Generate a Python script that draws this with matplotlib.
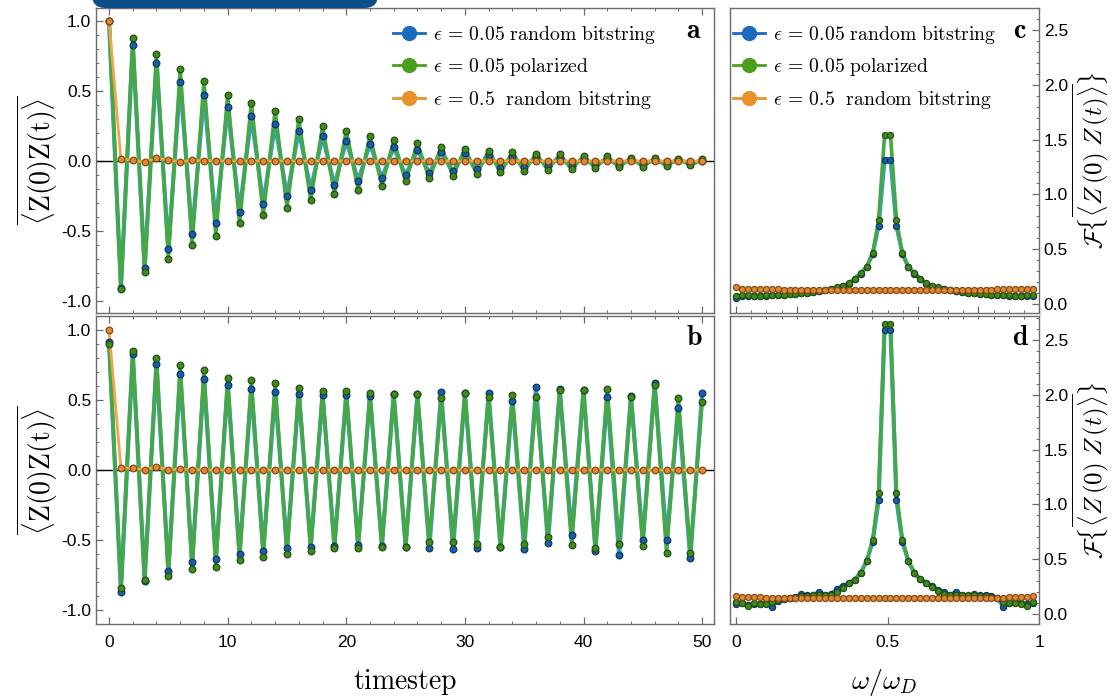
import matplotlib
matplotlib.use("Agg")
import matplotlib.pyplot as plt  # noqa: E402
import numpy as np  # noqa: E402
from matplotlib.patches import FancyBboxPatch  # noqa: E402
from matplotlib.ticker import MultipleLocator, FixedLocator, NullFormatter  # noqa: E402

plt.rcParams["mathtext.fontset"] = "cm"
plt.rcParams["font.family"] = ["Liberation Sans", "DejaVu Sans"]

# ---- data -------------------------------------------------------------------
timesteps = list(range(51))

a_blue = [1.0, -0.91, 0.829, -0.762, 0.698, -0.629, 0.562, -0.519, 0.471, -0.44,
          0.383, -0.362, 0.321, -0.305, 0.262, -0.25, 0.217, -0.205, 0.176, -0.174,
          0.145, -0.14, 0.121, -0.121, 0.098, -0.10, 0.079, -0.086, 0.067, -0.074,
          0.055, -0.06, 0.043, -0.05, 0.036, -0.045, 0.029, -0.036, 0.024, -0.033,
          0.017, -0.029, 0.014, -0.026, 0.010, -0.024, 0.007, -0.021, 0.007, -0.017,
          0.002]
a_green = [1.0, -0.914, 0.876, -0.795, 0.767, -0.698, 0.659, -0.60, 0.574, -0.533,
           0.471, -0.445, 0.417, -0.386, 0.36, -0.333, 0.30, -0.281, 0.248, -0.233,
           0.217, -0.205, 0.179, -0.176, 0.15, -0.145, 0.126, -0.124, 0.10, -0.107,
           0.088, -0.095, 0.074, -0.081, 0.062, -0.074, 0.052, -0.064, 0.048, -0.06,
           0.036, -0.05, 0.033, -0.045, 0.024, -0.04, 0.02, -0.036, 0.017, -0.031,
           0.012]
a_orange = [1.0, 0.012, 0.007, -0.007, 0.019, 0.007, -0.005, 0.004, 0.003, 0.002,
            0.0, 0.002, 0.0, 0.001, 0.0, 0.001, 0.0, 0.0, 0.001, 0.0,
            0.0, 0.0, 0.001, 0.0, 0.0, 0.0, 0.001, 0.0, 0.0, 0.0,
            0.0, 0.0, 0.0, 0.0, 0.001, 0.0, 0.0, 0.0, 0.0, 0.0,
            0.0, 0.0, 0.0, 0.0, 0.0, 0.0, 0.0, 0.0, 0.0, 0.0, 0.0]

b_blue = [0.912, -0.869, 0.826, -0.793, 0.76, -0.719, 0.686, -0.66, 0.648, -0.636,
          0.605, -0.598, 0.581, -0.579, 0.557, -0.559, 0.545, -0.548, 0.536, -0.543,
          0.536, -0.536, 0.531, -0.543, 0.54, -0.548, 0.543, -0.559, 0.555, -0.566,
          0.548, -0.555, 0.548, -0.55, 0.495, -0.564, 0.593, -0.519, 0.576, -0.462,
          0.571, -0.579, 0.524, -0.607, 0.531, -0.50, 0.621, -0.502, 0.443, -0.631,
          0.548]
b_green = [0.90, -0.845, 0.85, -0.786, 0.798, -0.757, 0.75, -0.71, 0.714, -0.69,
           0.655, -0.64, 0.64, -0.619, 0.619, -0.60, 0.588, -0.576, 0.567, -0.559,
           0.564, -0.559, 0.55, -0.552, 0.545, -0.548, 0.543, -0.512, 0.516, -0.512,
           0.55, -0.526, 0.519, -0.55, 0.536, -0.526, 0.519, -0.479, 0.569, -0.533,
           0.571, -0.559, 0.581, -0.529, 0.521, -0.541, 0.605, -0.59, 0.517, -0.595,
           0.486]
b_orange = [1.0, 0.014, 0.014, 0.0, 0.024, 0.0, 0.007, 0.003, 0.001, 0.0,
            0.0, 0.001, 0.0, 0.0, 0.0, 0.0, 0.0, 0.0, 0.0, 0.0,
            0.0, 0.0, 0.0, 0.0, 0.0, 0.0, 0.0, 0.0, 0.0, 0.0,
            0.0, 0.0, 0.0, 0.0, 0.0, 0.0, 0.0, 0.0, 0.0, 0.0,
            0.0, 0.0, 0.0, 0.0, 0.0, 0.0, 0.0, 0.0, 0.0, 0.0, 0.0]

# frequency grid omega/omega_D = k/51, k = 0..50
n_freq = 51
c_blue = [0.055, 0.075, 0.074, 0.074, 0.075, 0.076, 0.078, 0.080, 0.083, 0.087,
          0.091, 0.096, 0.102, 0.109, 0.117, 0.126, 0.137, 0.150, 0.165, 0.186,
          0.228, 0.278, 0.338, 0.460, 0.714, 1.314, 1.314, 0.714, 0.460, 0.338,
          0.278, 0.228, 0.186, 0.165, 0.150, 0.137, 0.126, 0.117, 0.109, 0.102,
          0.096, 0.091, 0.087, 0.083, 0.080, 0.078, 0.076, 0.075, 0.074, 0.074,
          0.075]
c_green = [0.072, 0.080, 0.078, 0.077, 0.077, 0.078, 0.080, 0.082, 0.085, 0.088,
           0.092, 0.097, 0.103, 0.110, 0.118, 0.127, 0.138, 0.152, 0.167, 0.189,
           0.232, 0.282, 0.340, 0.462, 0.766, 1.539, 1.539, 0.766, 0.462, 0.340,
           0.282, 0.232, 0.189, 0.167, 0.152, 0.138, 0.127, 0.118, 0.110, 0.103,
           0.097, 0.092, 0.088, 0.085, 0.082, 0.080, 0.078, 0.077, 0.077, 0.078,
           0.080]
c_orange = [0.155, 0.140, 0.137, 0.135, 0.134, 0.134, 0.133, 0.133, 0.132, 0.132,
            0.131, 0.131, 0.130, 0.130, 0.130, 0.129, 0.129, 0.129, 0.128, 0.128,
            0.128, 0.128, 0.128, 0.127, 0.127, 0.127, 0.127, 0.127, 0.127, 0.128,
            0.128, 0.128, 0.128, 0.128, 0.129, 0.129, 0.129, 0.130, 0.130, 0.130,
            0.131, 0.131, 0.132, 0.132, 0.133, 0.133, 0.134, 0.134, 0.135, 0.137,
            0.140]

d_blue = [0.088, 0.10, 0.085, 0.09, 0.095, 0.10, 0.067, 0.12, 0.14, 0.15,
          0.155, 0.18, 0.17, 0.175, 0.20, 0.17, 0.18, 0.23, 0.26, 0.28,
          0.315, 0.377, 0.484, 0.66, 1.037, 2.59, 2.59, 1.037, 0.66, 0.484,
          0.377, 0.316, 0.286, 0.26, 0.22, 0.20, 0.175, 0.20, 0.17, 0.165,
          0.18, 0.17, 0.175, 0.165, 0.15, 0.064, 0.10, 0.11, 0.10, 0.09,
          0.10]
d_green = [0.11, 0.097, 0.073, 0.097, 0.09, 0.095, 0.11, 0.13, 0.14, 0.145,
           0.15, 0.16, 0.165, 0.17, 0.175, 0.17, 0.175, 0.20, 0.235, 0.28,
           0.315, 0.377, 0.484, 0.68, 1.104, 2.646, 2.646, 1.104, 0.68, 0.484,
           0.377, 0.316, 0.286, 0.25, 0.21, 0.18, 0.17, 0.175, 0.17, 0.175,
           0.17, 0.165, 0.16, 0.155, 0.15, 0.11, 0.10, 0.105, 0.095, 0.073,
           0.11]
d_orange = [0.165, 0.155, 0.152, 0.151, 0.151, 0.150, 0.150, 0.150, 0.150, 0.150,
            0.150, 0.150, 0.150, 0.150, 0.150, 0.150, 0.150, 0.150, 0.150, 0.150,
            0.150, 0.150, 0.150, 0.150, 0.150, 0.150, 0.150, 0.150, 0.150, 0.150,
            0.150, 0.150, 0.150, 0.150, 0.150, 0.150, 0.150, 0.150, 0.150, 0.150,
            0.150, 0.150, 0.150, 0.150, 0.150, 0.150, 0.151, 0.151, 0.152, 0.155,
            0.165]

labels = [r"$\epsilon\,=\,0.05\ \mathrm{random\ bitstring}$",
          r"$\epsilon\,=\,0.05\ \mathrm{polarized}$",
          r"$\epsilon\,=\,0.5\ \ \mathrm{random\ bitstring}$"]

# ---- styles -----------------------------------------------------------------
W, H = 1116, 698
line_cols = ["#3d9bd3", "#46a845", "#f0a645"]
face_cols = ["#1a5fa6", "#3f8a1f", "#df8a2e"]
edge_cols = ["#0c3763", "#244f10", "#86491a"]
leg_cols = ["#1b6ac0", "#4b9f1f", "#e8922a"]
frame_col = "#6b6b6b"


def px_axes(fig, left, right, top, bottom):
    return fig.add_axes([left / W, 1 - bottom / H, (right - left) / W, (bottom - top) / H])


def style_frame(ax):
    for sp in ax.spines.values():
        sp.set_color(frame_col)
        sp.set_linewidth(1.0)
    ax.tick_params(which="both", direction="in", color=frame_col, labelsize=12.5,
                   labelcolor="black")
    ax.tick_params(which="major", length=5, width=0.9)
    ax.tick_params(which="minor", length=2.5, width=0.7)


def draw_series(ax, x, series, ms):
    lws = [3.0, 2.6, 2.0]
    for ys, lc, lw in zip(series, line_cols, lws):
        ax.plot(x, ys, color=lc, lw=lw, zorder=2, solid_joinstyle="round")
    for ys, fc, ec in zip(series, face_cols, edge_cols):
        ax.plot(x, ys, ls="none", marker="o", ms=ms, mfc=fc, mec=ec, mew=0.9, zorder=3)


def add_legend(ax, x_px, y_px):
    handles = [plt.Line2D([], [], color=c, lw=2.0, marker="o", ms=10, mfc=c, mec=c)
               for c in leg_cols]
    ax.legend(handles, labels, loc="upper left", bbox_to_anchor=(x_px / W, 1 - y_px / H),
              bbox_transform=ax.figure.transFigure, frameon=False, fontsize=14.2,
              handlelength=1.6, handletextpad=0.45, labelspacing=0.52, borderpad=0,
              borderaxespad=0)


fig = plt.figure(figsize=(W / 100, H / 100), dpi=100)

ax_a = px_axes(fig, 96, 714, 8, 313)
ax_b = px_axes(fig, 96, 714, 316, 624)
ax_c = px_axes(fig, 730, 1039, 8, 313)
ax_d = px_axes(fig, 730, 1039, 316, 624)

# ---- time-domain panels -------------------------------------------------------
for ax, series, ylim in [(ax_a, (a_blue, a_green, a_orange), (-1.086, 1.093)),
                         (ax_b, (b_blue, b_green, b_orange), (-1.1, 1.1))]:
    style_frame(ax)
    ax.axhline(0, color="black", lw=1.0, zorder=1.8)
    draw_series(ax, timesteps, series, ms=4.8)
    ax.set_xlim(-1.1, 51.0)
    ax.set_ylim(*ylim)
    ax.xaxis.set_major_locator(MultipleLocator(10))
    ax.xaxis.set_minor_locator(MultipleLocator(2))
    ax.yaxis.set_major_locator(MultipleLocator(0.5))
    ax.yaxis.set_minor_locator(MultipleLocator(0.1))
    ax.yaxis.set_major_formatter(plt.FuncFormatter(lambda v, p: f"{v:.1f}"))
    ax.tick_params(axis="x", which="both", top=True, bottom=True)
    ax.tick_params(axis="y", which="both", left=True, right=False)
    ax.set_ylabel(r"$\overline{\langle \mathrm{Z}(0)\mathrm{Z}(\mathrm{t})\rangle}$",
                  fontsize=20, labelpad=1)

ax_a.tick_params(axis="x", labelbottom=False)
ax_b.tick_params(axis="x", pad=8)
ax_b.set_xlabel(r"$\mathrm{timestep}$", fontsize=20, labelpad=12)

# ---- frequency panels ---------------------------------------------------------
omega = np.arange(n_freq) / n_freq
for ax, series, ylim in [(ax_c, (c_blue, c_green, c_orange), (-0.082, 2.70)),
                         (ax_d, (d_blue, d_green, d_orange), (-0.091, 2.72))]:
    style_frame(ax)
    draw_series(ax, omega, series, ms=4.4)
    ax.set_xlim(-0.02, 1.0)
    ax.set_ylim(*ylim)
    ax.yaxis.tick_right()
    ax.yaxis.set_label_position("right")
    ax.yaxis.set_major_locator(MultipleLocator(0.5))
    ax.yaxis.set_minor_locator(MultipleLocator(0.1))
    ax.yaxis.set_major_formatter(plt.FuncFormatter(lambda v, p: f"{v:.1f}"))
    ax.tick_params(axis="y", which="both", left=False, right=True)
    ax.set_ylabel(r"$\mathcal{F}\{\overline{\langle Z\,(0)\;Z\,(t)\rangle}\}$",
                  fontsize=18, labelpad=2, rotation=90)

ax_c.xaxis.set_major_locator(MultipleLocator(0.2))
ax_c.xaxis.set_minor_locator(MultipleLocator(0.05))
ax_c.tick_params(axis="x", which="both", top=False, labelbottom=False)

ax_d.xaxis.set_major_locator(FixedLocator([0, 0.5, 1.0]))
ax_d.xaxis.set_minor_locator(FixedLocator(list(np.arange(0, 1.0001, 0.05))))
ax_d.xaxis.set_major_formatter(plt.FuncFormatter(lambda v, p: {0: "0", 0.5: "0.5", 1.0: "1"}.get(round(v, 2), "")))
ax_d.xaxis.set_minor_formatter(NullFormatter())
ax_d.tick_params(axis="x", which="minor", bottom=False, top=True)
ax_d.tick_params(axis="x", which="major", top=False, pad=8)
ax_d.set_xlabel(r"$\omega/\omega_D$", fontsize=20, labelpad=12)

# ---- legends and panel letters ----------------------------------------------
add_legend(ax_a, 393, 24)
add_legend(ax_c, 733, 24)

for ax, letter, xp, yp in [(ax_a, "a", 694, 31), (ax_b, "b", 694, 338),
                           (ax_c, "c", 1020, 31), (ax_d, "d", 1020, 338)]:
    fig.text(xp / W, 1 - yp / H, rf"$\mathbf{{{letter}}}$", fontsize=20,
             ha="center", va="center")

# cut-off banner at the top edge
banner = FancyBboxPatch((92 / W, 1 - 8 / H), (378 - 92) / W, 30 / H,
                        boxstyle="round,pad=0,rounding_size=0.012",
                        transform=fig.transFigure, facecolor="#0b4f86",
                        edgecolor="none", zorder=10, mutation_aspect=W / H)
fig.add_artist(banner)

fig.savefig("out.png", dpi=100)
